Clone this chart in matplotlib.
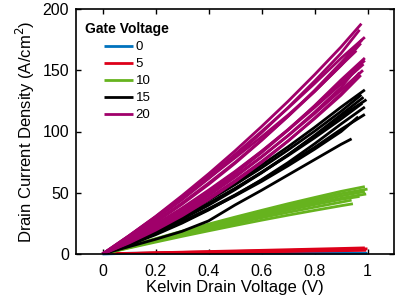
import matplotlib
matplotlib.use("Agg")
import matplotlib.pyplot as plt
from matplotlib.lines import Line2D

plt.rcParams['font.family'] = ['Liberation Sans', 'DejaVu Sans']

# common voltage grid (V); each curve then ends at its own end voltage
v_grid = [0.0, 0.1, 0.2, 0.3, 0.4, 0.5, 0.6, 0.7, 0.8, 0.9]

gate_labels = ['0', '5', '10', '15', '20']
colors = ['#0072BD', '#DD0019', '#66B31E', '#000000', '#A0006A']

# Vg = 0
vg0_end_v = [1.0]
vg0_end_i = [0.6]
vg0_curves = [[0.0, 0.6, 0.6, 0.6, 0.6, 0.6, 0.6, 0.6, 0.6, 0.6]]

# Vg = 5
vg5_end_v = [0.99, 1.0, 0.98, 0.995]
vg5_end_i = [5.0, 4.2, 3.5, 3.0]
vg5_curves = [
    [0, 0.5, 1.0, 1.5, 2.0, 2.5, 3.0, 3.5, 4.0, 4.5],
    [0, 0.4, 0.8, 1.3, 1.7, 2.1, 2.5, 2.9, 3.4, 3.8],
    [0, 0.4, 0.7, 1.1, 1.4, 1.8, 2.1, 2.5, 2.9, 3.2],
    [0, 0.3, 0.6, 0.9, 1.2, 1.5, 1.8, 2.1, 2.4, 2.7],
]

# Vg = 10
vg10_end_v = [0.99, 1.0, 0.99, 0.995, 0.97, 0.94, 0.945]
vg10_end_i = [55, 53, 51, 49, 47, 44, 41]
vg10_curves = [
    [0, 6.4, 12.5, 18.6, 24.4, 30.1, 35.6, 41.0, 46.1, 51.1],
    [0, 6.1, 12.1, 17.9, 23.5, 29.0, 34.3, 39.5, 44.5, 49.2],
    [0, 5.9, 11.6, 17.2, 22.6, 27.9, 33.0, 38.0, 42.8, 47.4],
    [0, 5.7, 11.2, 16.6, 21.8, 26.9, 31.8, 36.5, 41.1, 45.5],
    [0, 5.6, 11.0, 16.3, 21.4, 26.4, 31.2, 35.8, 40.3, 44.6],
    [0, 5.3, 10.4, 15.4, 20.3, 25.0, 29.6, 34.0, 38.2, 42.3],
    [0, 4.9, 9.7, 14.4, 18.9, 23.3, 27.6, 31.7, 35.6, 39.4],
]

# Vg = 15
vg15_end_v = [0.99, 0.977, 0.985, 0.996, 0.98, 0.99, 0.99, 0.965, 0.94]
vg15_end_i = [134, 130, 128, 126, 123, 120, 114, 112, 94]
vg15_curves = [
    [0, 10.0, 20.8, 32.4, 45.0, 58.3, 72.5, 87.5, 103.3, 119.9],
    [0, 9.7, 20.2, 31.5, 43.7, 56.6, 70.3, 84.9, 100.2, 116.4],
    [0, 8.4, 17.8, 28.3, 39.8, 52.5, 66.2, 80.9, 96.8, 113.7],
    [0, 8.8, 18.5, 29.2, 40.8, 53.3, 66.7, 81.0, 96.1, 112.4],
    [0, 9.2, 19.1, 29.8, 41.3, 53.5, 66.5, 80.3, 94.8, 110.1],
    [0, 7.3, 15.7, 25.2, 35.9, 47.8, 60.6, 74.6, 89.9, 106.1],
    [0, 8.0, 16.8, 26.4, 36.9, 48.2, 60.3, 73.3, 87.0, 101.7],
    [0, 7.8, 16.5, 26.0, 36.3, 47.4, 59.2, 72.0, 85.5, 99.9],
    [0, 6.0, 12.0, 18.5, 27.0, 40.0, 52.0, 64.5, 77.0, 89.5],
]

# Vg = 20
vg20_end_v = [0.977, 0.97, 0.99, 0.98, 0.975, 0.958, 0.99, 0.99,
              0.985, 0.965, 0.983, 0.97, 0.975]
vg20_end_i = [188, 183, 177, 175, 172, 166, 160, 158, 155, 153, 150, 148, 146]
vg20_curves = [
    [0, 14.9, 30.6, 47.6, 65.4, 84.2, 104.0, 124.6, 146.3, 169.0],
    [0, 13.6, 28.4, 44.3, 61.5, 79.6, 99.0, 119.5, 141.1, 163.8],
    [0, 14.9, 30.3, 46.6, 63.7, 81.4, 100.0, 119.1, 139.1, 159.8],
    [0, 12.3, 25.7, 40.6, 56.7, 74.0, 92.6, 112.5, 133.5, 156.1],
    [0, 12.8, 26.7, 41.6, 57.8, 74.8, 93.1, 112.3, 132.6, 153.9],
    [0, 14.6, 29.9, 45.5, 61.8, 78.5, 95.6, 113.4, 132.6, 154.0],
    [0, 10.5, 22.2, 35.4, 49.8, 65.6, 82.7, 101.1, 121.0, 142.1],
    [0, 11.1, 23.2, 36.7, 51.2, 66.8, 83.6, 101.6, 120.6, 140.9],
    [0, 11.5, 24.0, 37.5, 52.1, 67.4, 83.9, 101.2, 119.5, 138.7],
    [0, 10.0, 21.3, 33.8, 47.6, 62.7, 79.1, 96.7, 115.7, 135.9],
    [0, 10.5, 22.1, 34.8, 48.6, 63.5, 79.4, 96.5, 114.5, 133.8],
    [0, 9.0, 19.4, 31.1, 44.3, 58.9, 74.7, 92.1, 110.9, 130.8],
    [0, 9.5, 20.3, 32.3, 45.4, 59.9, 75.5, 92.3, 110.4, 129.6],
]

groups = [
    (vg0_curves, vg0_end_v, vg0_end_i),
    (vg5_curves, vg5_end_v, vg5_end_i),
    (vg10_curves, vg10_end_v, vg10_end_i),
    (vg15_curves, vg15_end_v, vg15_end_i),
    (vg20_curves, vg20_end_v, vg20_end_i),
]

x_ticks = [0, 0.2, 0.4, 0.6, 0.8, 1.0]
x_tick_labels = ['0', '0.2', '0.4', '0.6', '0.8', '1']
y_ticks = [0, 50, 100, 150, 200]

W, H = 401, 301
fig = plt.figure(figsize=(W / 100, H / 100), dpi=100)
ax = fig.add_axes([76 / W, 1 - 254 / H, 318 / W, 245 / H])

for (curves, ev, ei), col, lab in zip(groups, colors, gate_labels):
    for c, v_end, i_end in zip(curves, ev, ei):
        xs = list(v_grid) + [v_end]
        ys = list(c) + [i_end]
        ax.plot(xs, ys, color=col, lw=2.0, solid_capstyle='butt',
                clip_on=(lab != '0'))

ax.set_xlim(-0.1, 1.1)
ax.set_ylim(0, 200)
ax.set_xticks(x_ticks)
ax.set_xticklabels(x_tick_labels)
ax.set_yticks(y_ticks)
ax.tick_params(axis='both', direction='in', top=True, right=True, length=3.5,
               width=1.0, labelsize=11.5)
ax.tick_params(axis='x', pad=7)
ax.tick_params(axis='y', pad=5)
for s in ax.spines.values():
    s.set_linewidth(1.2)
ax.set_xlabel('Kelvin Drain Voltage (V)', fontsize=12, labelpad=1)
ax.set_ylabel('Drain Current Density (A/cm$^2$)', fontsize=12, labelpad=4)

# legend (title + entries), placed in figure pixel coordinates
fig.text(85 / W, 1 - 32.5 / H, 'Gate Voltage', fontsize=10, fontweight='bold',
         ha='left', va='baseline')
for i, (lab, col) in enumerate(zip(gate_labels, colors)):
    yc = 45.7 + 17 * i
    fig.add_artist(Line2D([104 / W, 133 / W], [1 - yc / H, 1 - yc / H],
                          color=col, lw=2.0, solid_capstyle='butt'))
    fig.text(135.5 / W, 1 - (yc + 4.6) / H, lab, fontsize=9.5,
             ha='left', va='baseline')

fig.savefig('out.png', dpi=100)
